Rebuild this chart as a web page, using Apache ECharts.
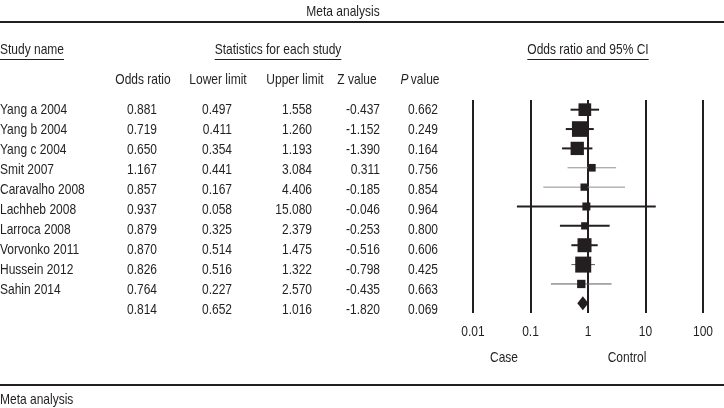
<!DOCTYPE html>
<html>
<head>
<meta charset="utf-8">
<script src="https://cdn.jsdelivr.net/npm/echarts@6/dist/echarts.min.js"></script>
<style>html,body{margin:0;padding:0;background:#fff;}#c{width:724px;height:408px;}</style>
</head>
<body>
<div id="c"></div>
<script>
// ---- data ----
const studies = ['Yang a 2004','Yang b 2004','Yang c 2004','Smit 2007','Caravalho 2008','Lachheb 2008','Larroca 2008','Vorvonko 2011','Hussein 2012','Sahin 2014',''];
const oddsRatio = [0.881,0.719,0.650,1.167,0.857,0.937,0.879,0.870,0.826,0.764,0.814];
const lowerLimit = [0.497,0.411,0.354,0.441,0.167,0.058,0.325,0.514,0.516,0.227,0.652];
const upperLimit = [1.558,1.260,1.193,3.084,4.406,15.080,2.379,1.475,1.322,2.570,1.016];
const zValue = [-0.437,-1.152,-1.390,0.311,-0.185,-0.046,-0.253,-0.516,-0.798,-0.435,-1.820];
const pValue = [0.662,0.249,0.164,0.756,0.854,0.964,0.800,0.606,0.425,0.663,0.069];
// relative study weights (%) read from square areas
const relWeight = [12.1,18.4,13.3,4.4,4.0,4.8,4.0,14.7,19.2,5.2];
const tickValues = [0.01, 0.1, 1, 10, 100];
const tickLabels = ['0.01','0.1','1','10','100'];

// ---- styles ----
const INK = '#231f20';
const FONT = "'Liberation Sans',Arial,sans-serif";
const FS = 15;
const SX = 0.8; // horizontal condensing of the text
const ciStyle = ['thick','thick','thick','light','light','thick','thick','thick','mid','mid'];
const ciColor = {thick: INK, light: '#8f8f8f', mid: '#5a5a5a'};
const ciWidth = {thick: 2, light: 1, mid: 1};
const colRight = [157, 232, 312, 380, 438];
const TICK_LABEL_Y = 332;

const chart = echarts.init(document.getElementById('c'), null, {renderer: 'canvas'});

function measure(t) {
  const ctx = document.createElement('canvas').getContext('2d');
  ctx.font = FS + 'px ' + FONT;
  return ctx.measureText(t).width * SX;
}
function txt(t, x, y, align, extraStyle) {
  return {
    type: 'text', x: x, y: y, scaleX: SX, silent: true,
    style: Object.assign({text: t, x: 0, y: 0, textAlign: align, textVerticalAlign: 'middle', font: FS + 'px ' + FONT, fill: INK}, extraStyle || {})
  };
}

const rows = studies.map((s, i) => i);

const tableSeries = {
  type: 'custom', xAxisIndex: 1, yAxisIndex: 1, clip: false, silent: true,
  data: rows.map(i => [0, i]),
  renderItem: function (params, api) {
    const i = api.value(1);
    const y = api.coord([0, i])[1];
    const vals = [oddsRatio[i], lowerLimit[i], upperLimit[i], zValue[i], pValue[i]];
    const children = [txt(studies[i], 0, y, 'left')];
    vals.forEach((v, k) => children.push(txt(v.toFixed(3), colRight[k], y, 'right')));
    return {type: 'group', children: children};
  }
};

const forestSeries = {
  type: 'custom', xAxisIndex: 0, yAxisIndex: 0, clip: false, silent: true,
  data: rows.map(i => [oddsRatio[i], i, lowerLimit[i], upperLimit[i]]),
  renderItem: function (params, api) {
    const i = api.value(1);
    const c = api.coord([api.value(0), i]);
    const lo = api.coord([api.value(2), i]);
    const hi = api.coord([api.value(3), i]);
    if (i === studies.length - 1) {
      const h = 7;
      return {type: 'polygon', shape: {points: [[lo[0], c[1]], [c[0], c[1] - h], [hi[0], c[1]], [c[0], c[1] + h]]}, style: {fill: INK}};
    }
    const st = ciStyle[i];
    const side = Math.sqrt(relWeight[i]) * 3.65;
    return {type: 'group', children: [
      {type: 'line', shape: {x1: lo[0], y1: c[1], x2: hi[0], y2: c[1]}, style: {stroke: ciColor[st], lineWidth: ciWidth[st]}},
      {type: 'rect', shape: {x: c[0] - side / 2, y: c[1] - side / 2, width: side, height: side}, style: {fill: INK}}
    ]};
  }
};

// tick labels placed through the log x axis
const tickSeries = {
  type: 'custom', xAxisIndex: 0, yAxisIndex: 0, clip: false, silent: true,
  data: tickValues.map((v, k) => [v, 0, k]),
  renderItem: function (params, api) {
    const x = api.coord([api.value(0), 0])[0];
    return txt(tickLabels[api.value(2)], x, TICK_LABEL_Y, 'center');
  }
};

const headers = [
  ['Study name', 0, 50, 'left'],
  ['Statistics for each study', 278, 50, 'center'],
  ['Odds ratio and 95% CI', 588, 50, 'center']
];
const graphics = [];
headers.forEach(h => {
  graphics.push(txt(h[0], h[1], h[2], h[3]));
  const w = measure(h[0]);
  const x0 = h[3] === 'left' ? h[1] : h[1] - w / 2;
  graphics.push({type: 'line', silent: true, shape: {x1: x0, y1: 59.5, x2: x0 + w, y2: 59.5}, style: {stroke: INK, lineWidth: 1}});
});
[['Odds ratio', 143], ['Lower limit', 218], ['Upper limit', 295], ['Z value', 357]].forEach(h => graphics.push(txt(h[0], h[1], 80, 'center')));
graphics.push(txt('{i|P}value', 420, 80, 'center', {
  rich: {i: {fontStyle: 'italic', fontFamily: FONT, fontSize: FS, fill: INK, padding: [0, 3, 0, 0]}}
}));
graphics.push(txt('Meta analysis', 343, 12, 'center'));
graphics.push(txt('Meta analysis', 0, 400, 'left'));
graphics.push(txt('Case', 504, 358, 'center'));
graphics.push(txt('Control', 627, 358, 'center'));
graphics.push({type: 'line', silent: true, shape: {x1: 0, y1: 22, x2: 724, y2: 22}, style: {stroke: INK, lineWidth: 2}});
graphics.push({type: 'line', silent: true, shape: {x1: 0, y1: 385, x2: 724, y2: 385}, style: {stroke: INK, lineWidth: 2}});

chart.setOption({
  animation: false,
  backgroundColor: '#fff',
  grid: [
    {left: 473, width: 230, top: 100, height: 213},
    {left: 0, width: 724, top: 100, height: 220}
  ],
  xAxis: [
    {type: 'log', logBase: 10, min: 0.01, max: 100, gridIndex: 0,
      axisLine: {show: false}, axisTick: {show: false}, axisLabel: {show: false},
      splitLine: {show: true, lineStyle: {color: INK, width: 2}}},
    {type: 'value', min: 0, max: 724, gridIndex: 1, show: false}
  ],
  yAxis: [
    {type: 'category', data: studies.map((s, i) => String(i)), inverse: true, gridIndex: 0, show: false},
    {type: 'category', data: studies.map((s, i) => String(i)), inverse: true, gridIndex: 1, show: false}
  ],
  series: [forestSeries, tableSeries, tickSeries],
  graphic: graphics
});
</script>
</body>
</html>
